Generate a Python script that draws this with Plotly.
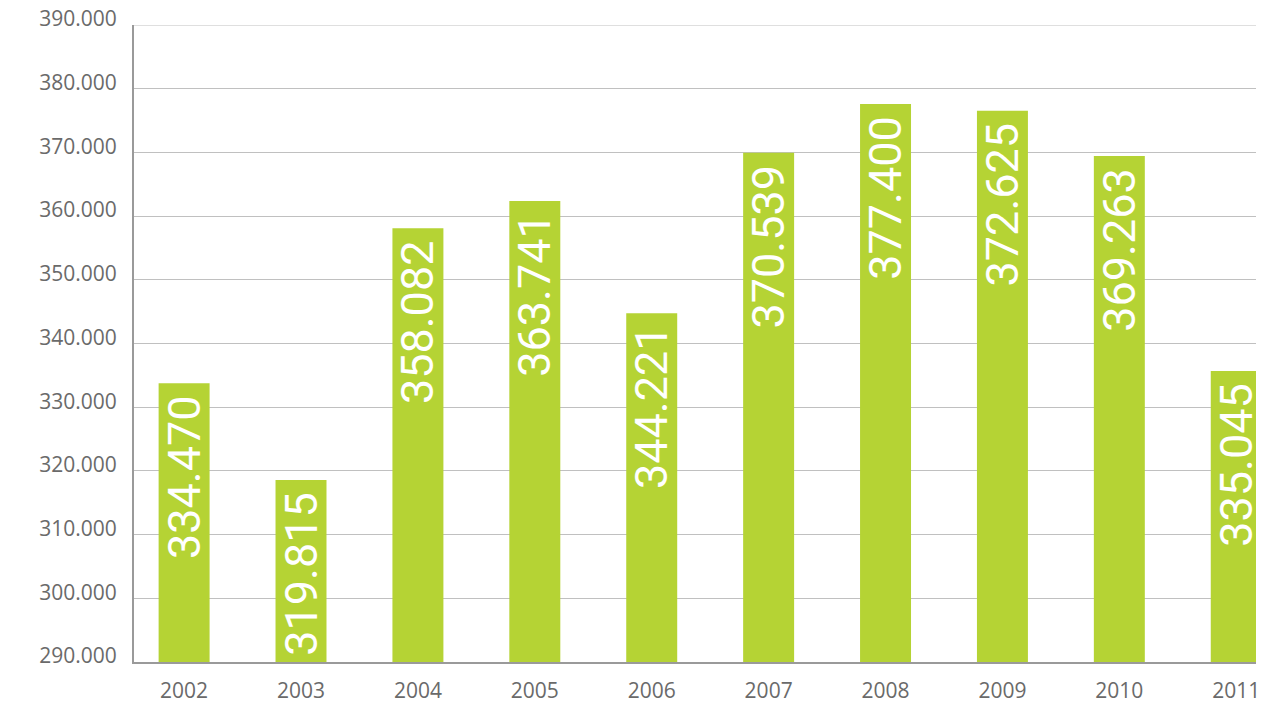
import plotly.graph_objects as go

years = ["2002", "2003", "2004", "2005", "2006", "2007", "2008", "2009", "2010", "2011"]
# bar heights as drawn in the picture (thousands)
bar_heights = [333.75, 318.57, 358.08, 362.37, 344.74, 369.95, 377.60, 376.55, 369.43, 335.68]
# labels printed on the bars
bar_labels = ["334.470", "319.815", "358.082", "363.741", "344.221",
              "370.539", "377.400", "372.625", "369.263", "335.045"]
y_tick_vals = [290, 300, 310, 320, 330, 340, 350, 360, 370, 380, 390]
y_tick_text = ["290.000", "300.000", "310.000", "320.000", "330.000", "340.000",
               "350.000", "360.000", "370.000", "380.000", "390.000"]

GREEN = "#b5d334"
GRID = "#c0c0c0"
BASE = 290
Y_MIN, Y_MAX = 290, 390

fig = go.Figure(go.Bar(
    x=years,
    y=[h - BASE for h in bar_heights],
    base=BASE,
    text=[t + "\u2009" for t in bar_labels],
    textposition="inside",
    insidetextanchor="end",
    textangle=-90,
    textfont=dict(family="Roboto", size=45, color="white"),
    marker=dict(color=GREEN, line=dict(width=0)),
    width=0.436,
    hoverinfo="skip",
))

# top gridline (plotly omits the grid line at the very end of the range)
fig.add_shape(type="line", xref="paper", yref="y", x0=0, x1=1, y0=Y_MAX, y1=Y_MAX,
              line=dict(color=GRID, width=1), layer="below")

fig.update_layout(
    width=1285, height=707,
    margin=dict(l=134, r=29, t=25, b=45, autoexpand=False),
    paper_bgcolor="white", plot_bgcolor="white",
    showlegend=False,
    uniformtext=dict(minsize=45, mode="show"),
    font=dict(family="Open Sans", color="#6a6a6a", size=21),
)
fig.update_xaxes(
    type="category",
    range=[-0.4286, 9.169],
    automargin=False,
    showgrid=False,
    showline=True, linecolor="#9a9a9a", linewidth=2,
    ticks="", ticklabelstandoff=9,
    tickfont=dict(family="Open Sans", size=21, color="#6a6a6a"),
)
fig.update_yaxes(
    range=[Y_MIN, Y_MAX],
    automargin=False,
    tickvals=y_tick_vals, ticktext=y_tick_text,
    showgrid=True, gridcolor=GRID, gridwidth=1,
    showline=True, linecolor="#9a9a9a", linewidth=2,
    zeroline=False,
    ticks="", ticklabelstandoff=11, ticklabelshift=-6,
    ticklabeloverflow="allow",
    tickfont=dict(family="Open Sans", size=21, color="#6a6a6a"),
)

fig.write_html(
    "out.html",
    config={"displayModeBar": False},
    post_script="document.body.style.margin='0';document.body.style.overflow='hidden';",
)
